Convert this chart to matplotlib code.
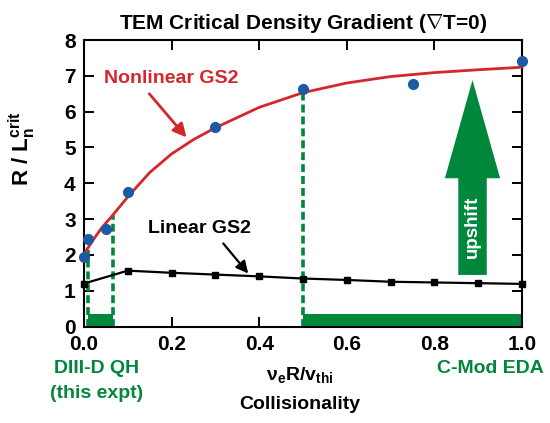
import matplotlib
matplotlib.use("Agg")
import matplotlib.pyplot as plt
from matplotlib.patches import FancyArrow, Rectangle
from matplotlib import font_manager

# ---- data -------------------------------------------------------------
# measured critical gradients (points)
exp_x = [0.0, 0.01, 0.05, 0.1, 0.3, 0.5, 0.75, 1.0]
exp_y = [1.93, 2.44, 2.72, 3.75, 5.58, 6.63, 6.77, 7.42]

# nonlinear GS2 trend
nl_x = [0.0, 0.02, 0.04, 0.065, 0.1, 0.15, 0.2, 0.25, 0.3, 0.4, 0.5, 0.6, 0.7, 0.8, 0.9, 1.0]
nl_y = [2.03, 2.4, 2.75, 3.1, 3.62, 4.3, 4.82, 5.22, 5.55, 6.12, 6.53, 6.8, 6.98, 7.09, 7.17, 7.24]

# linear GS2 scan
lin_x = [0.0, 0.1, 0.2, 0.3, 0.4, 0.5, 0.6, 0.7, 0.8, 0.9, 1.0]
lin_y = [1.2, 1.56, 1.5, 1.45, 1.4, 1.34, 1.3, 1.25, 1.23, 1.21, 1.19]

# collisionality ranges of the two devices
diiid_range = [0.01, 0.066]
diiid_tops = [2.13, 3.1]
cmod_range = [0.5, 1.0]
cmod_top = 6.53
band_height = 0.35

xticks = [0.0, 0.2, 0.4, 0.6, 0.8, 1.0]
yticks = [0, 1, 2, 3, 4, 5, 6, 7, 8]

# ---- style ------------------------------------------------------------
names = {f.name for f in font_manager.fontManager.ttflist}
fam = "Liberation Sans Narrow" if "Liberation Sans Narrow" in names else "Liberation Sans"
plt.rcParams["font.family"] = [fam, "DejaVu Sans"]
plt.rcParams["font.weight"] = "bold"
plt.rcParams["axes.titleweight"] = "bold"
plt.rcParams["axes.labelweight"] = "bold"
plt.rcParams["mathtext.fontset"] = "custom"
plt.rcParams["mathtext.rm"] = fam + ":bold"
plt.rcParams["mathtext.bf"] = fam + ":bold"
plt.rcParams["mathtext.it"] = fam + ":bold"
plt.rcParams["mathtext.sf"] = fam + ":bold"

RED = "#d4272c"
BLUE = "#1c5aa6"
GREEN = "#00873c"

fig = plt.figure(figsize=(5.5, 4.23), dpi=100)
ax = fig.add_axes([0.1527, 0.2281, 0.7964, 0.6773])

# device ranges
for xv, tv in zip(diiid_range, diiid_tops):
    ax.plot([xv, xv], [0, tv], color=GREEN, lw=2.6, ls=(0, (2.2, 1.1)), zorder=2)
ax.add_patch(Rectangle((diiid_range[0], 0), diiid_range[1] - diiid_range[0], band_height,
                       color=GREEN, lw=0, zorder=2))
ax.plot([cmod_range[0], cmod_range[0]], [0, cmod_top], color=GREEN, lw=2.6,
        ls=(0, (2.2, 1.1)), zorder=2)
ax.add_patch(Rectangle((cmod_range[0], 0), cmod_range[1] - cmod_range[0], band_height,
                       color=GREEN, lw=0, zorder=2))

# curves
ax.plot(nl_x, nl_y, color=RED, lw=2.0, zorder=3, clip_on=False)
ax.plot(lin_x, lin_y, color="black", lw=1.6, marker="s", ms=5, zorder=4, clip_on=False)
ax.plot(exp_x, exp_y, ls="none", marker="o", ms=7, color=BLUE, zorder=5, clip_on=False)

# upshift arrow
ax.add_patch(FancyArrow(0.887, 1.44, 0, 5.44, width=0.065, head_width=0.126,
                        head_length=2.74, length_includes_head=True,
                        color=GREEN, lw=0, zorder=2))
ax.text(0.887, 2.78, "upshift", color="white", rotation=90, ha="center", va="center",
        fontsize=13.5, fontweight="bold", zorder=6)

# curve labels
ax.text(0.2, 6.93, "Nonlinear GS2", color=RED, fontsize=14, ha="center", va="center")
ax.annotate("", xy=(0.234, 5.28), xytext=(0.149, 6.5),
            arrowprops=dict(arrowstyle="-|>", color=RED, lw=2, mutation_scale=20,
                            shrinkA=0, shrinkB=0))
ax.text(0.263, 2.75, "Linear GS2", color="black", fontsize=14, ha="center", va="center")
ax.annotate("", xy=(0.375, 1.48), xytext=(0.318, 2.32),
            arrowprops=dict(arrowstyle="-|>", color="black", lw=1.6, mutation_scale=18,
                            shrinkA=0, shrinkB=0))

# axes
ax.set_xlim(0, 1.0)
ax.set_ylim(0, 8)
ax.set_xticks(xticks)
ax.set_xticklabels([f"{v:.1f}" for v in xticks])
ax.set_yticks(yticks)
ax.set_yticklabels([str(v) for v in yticks])
ax.tick_params(direction="in", length=7, width=1.4, top=True, right=True,
               labelsize=15, pad=6)
for s in ax.spines.values():
    s.set_linewidth(1.5)

ax.set_ylabel(r"R / L$_\mathbf{n}^\mathbf{crit}$", fontsize=16, fontweight="bold")
ax.yaxis.set_label_coords(-0.105, 0.62)

ax.set_title(r"TEM Critical Density Gradient ($\mathbf{\nabla}$T=0)", fontsize=15,
             fontweight="bold", pad=8)

fig.text(0.545, 0.113, r"$\mathbf{\nu_e}$R/v$_\mathbf{thi}$", fontsize=14, ha="center", va="center")
fig.text(0.545, 0.043, "Collisionality", fontsize=14, ha="center", va="center")
fig.text(0.176, 0.128, "DIII-D QH", color=GREEN, fontsize=14, ha="center", va="center")
fig.text(0.176, 0.07, "(this expt)", color=GREEN, fontsize=14, ha="center", va="center")
fig.text(0.892, 0.128, "C-Mod EDA", color=GREEN, fontsize=14, ha="center", va="center")

fig.savefig("out.png", dpi=100)
